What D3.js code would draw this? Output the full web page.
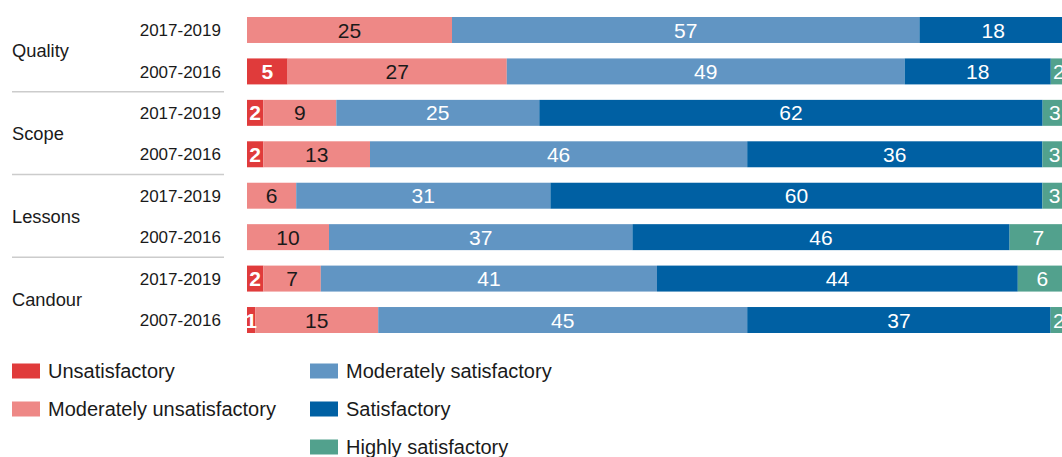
<!DOCTYPE html>
<html>
<head>
<meta charset="utf-8">
<script src="https://cdn.jsdelivr.net/npm/d3@7"></script>
<style>
  body { margin: 0; background: #fff; }
  text { font-family: "Liberation Sans", Arial, sans-serif; }
</style>
</head>
<body>
<div id="chart"></div>
<script>
// chart data
var groups = ["Quality", "Scope", "Lessons", "Candour"];
var periods = ["2017-2019", "2007-2016"];
var ratings = ["Unsatisfactory", "Moderately unsatisfactory", "Moderately satisfactory", "Satisfactory", "Highly satisfactory"];
var colors = ["#e03b3b", "#ee8886", "#6195c3", "#0060a3", "#52a18d"];

// one array per rating, rows in order Quality 17-19, Quality 07-16, Scope ..., Candour 07-16
var unsatisfactory = [0, 5, 2, 2, 0, 0, 2, 1];
var modUnsatisfactory = [25, 27, 9, 13, 6, 10, 7, 15];
var modSatisfactory = [57, 49, 25, 46, 31, 37, 41, 45];
var satisfactory = [18, 18, 62, 36, 60, 46, 44, 37];
var highlySatisfactory = [0, 2, 3, 3, 3, 7, 6, 2];

var svgWidth = 1062;
var svgHeight = 457;

var svg = d3.select("#chart")
  .append("svg")
  .attr("width", svgWidth)
  .attr("height", svgHeight);

// build rows, each bar is split by share of its own total
var rows = [];
groups.forEach(function(g, gi) {
  periods.forEach(function(p, pi) {
    var i = gi * 2 + pi;
    var vals = [unsatisfactory[i], modUnsatisfactory[i], modSatisfactory[i], satisfactory[i], highlySatisfactory[i]];
    var total = d3.sum(vals);
    var cum = 0;
    var segs = vals.map(function(v, k) {
      var s = { key: ratings[k], k: k, value: v, x0: cum / total, x1: (cum + v) / total };
      cum += v;
      return s;
    });
    rows.push({ id: g + "|" + p, group: g, period: p, segs: segs });
  });
});

var x = d3.scaleLinear().domain([0, 1]).range([247, 1067]);
var y = d3.scaleBand()
  .domain(rows.map(d => d.id))
  .range([17, 333])
  .paddingInner(0.373);

var color = d3.scaleOrdinal().domain(ratings).range(colors);

// bars
var rowG = svg.selectAll(".row")
  .data(rows)
  .enter()
  .append("g")
  .attr("class", "row")
  .attr("transform", d => `translate(0, ${y(d.id)})`);

rowG.selectAll("rect")
  .data(d => d.segs.filter(s => s.value > 0))
  .enter()
  .append("rect")
  .attr("x", d => x(d.x0))
  .attr("width", d => x(d.x1) - x(d.x0))
  .attr("height", y.bandwidth())
  .attr("fill", d => color(d.key));

rowG.selectAll(".val")
  .data(d => d.segs.filter(s => s.value > 0))
  .enter()
  .append("text")
  .attr("class", "val")
  .attr("x", d => (x(d.x0) + x(d.x1)) / 2)
  .attr("y", y.bandwidth() / 2)
  .attr("dy", "0.36em")
  .attr("text-anchor", "middle")
  .style("font-size", "21px")
  .style("font-weight", d => d.k === 0 ? "bold" : "normal")
  .attr("fill", d => d.k === 1 ? "#1a1a1a" : "#fff")
  .text(d => d.value);

// period labels
svg.selectAll(".period")
  .data(rows)
  .enter()
  .append("text")
  .attr("class", "period")
  .attr("x", 221)
  .attr("y", d => y(d.id) + y.bandwidth() / 2)
  .attr("dy", "0.36em")
  .attr("text-anchor", "end")
  .style("font-size", "17px")
  .attr("fill", "#1a1a1a")
  .text(d => d.period);

// group labels
svg.selectAll(".group")
  .data(groups)
  .enter()
  .append("text")
  .attr("class", "group")
  .attr("x", 12)
  .attr("y", g => (y(g + "|" + periods[0]) + y(g + "|" + periods[1]) + y.bandwidth()) / 2)
  .attr("dy", "0.36em")
  .style("font-size", "18.3px")
  .attr("fill", "#1a1a1a")
  .text(g => g);

// separators between groups
svg.selectAll(".sep")
  .data(groups.slice(1))
  .enter()
  .append("line")
  .attr("x1", 12)
  .attr("x2", 224)
  .attr("y1", g => y(g + "|" + periods[0]) - y.step() * y.paddingInner() / 2 - 0.5)
  .attr("y2", g => y(g + "|" + periods[0]) - y.step() * y.paddingInner() / 2 - 0.5)
  .attr("stroke", "#cccccc")
  .attr("stroke-width", 1.5);

// legend
var legendPos = [[12, 371], [12, 409], [310, 371], [310, 409], [310, 447]];
var legend = svg.selectAll(".legend")
  .data(ratings)
  .enter()
  .append("g")
  .attr("class", "legend")
  .attr("transform", (d, i) => `translate(${legendPos[i][0]}, ${legendPos[i][1]})`);

legend.append("rect")
  .attr("x", 0)
  .attr("y", -7.5)
  .attr("width", 28)
  .attr("height", 15)
  .attr("fill", d => color(d));

legend.append("text")
  .attr("x", 36)
  .attr("y", 0)
  .attr("dy", "0.36em")
  .style("font-size", "20px")
  .attr("fill", "#1a1a1a")
  .text(d => d);
</script>
</body>
</html>
